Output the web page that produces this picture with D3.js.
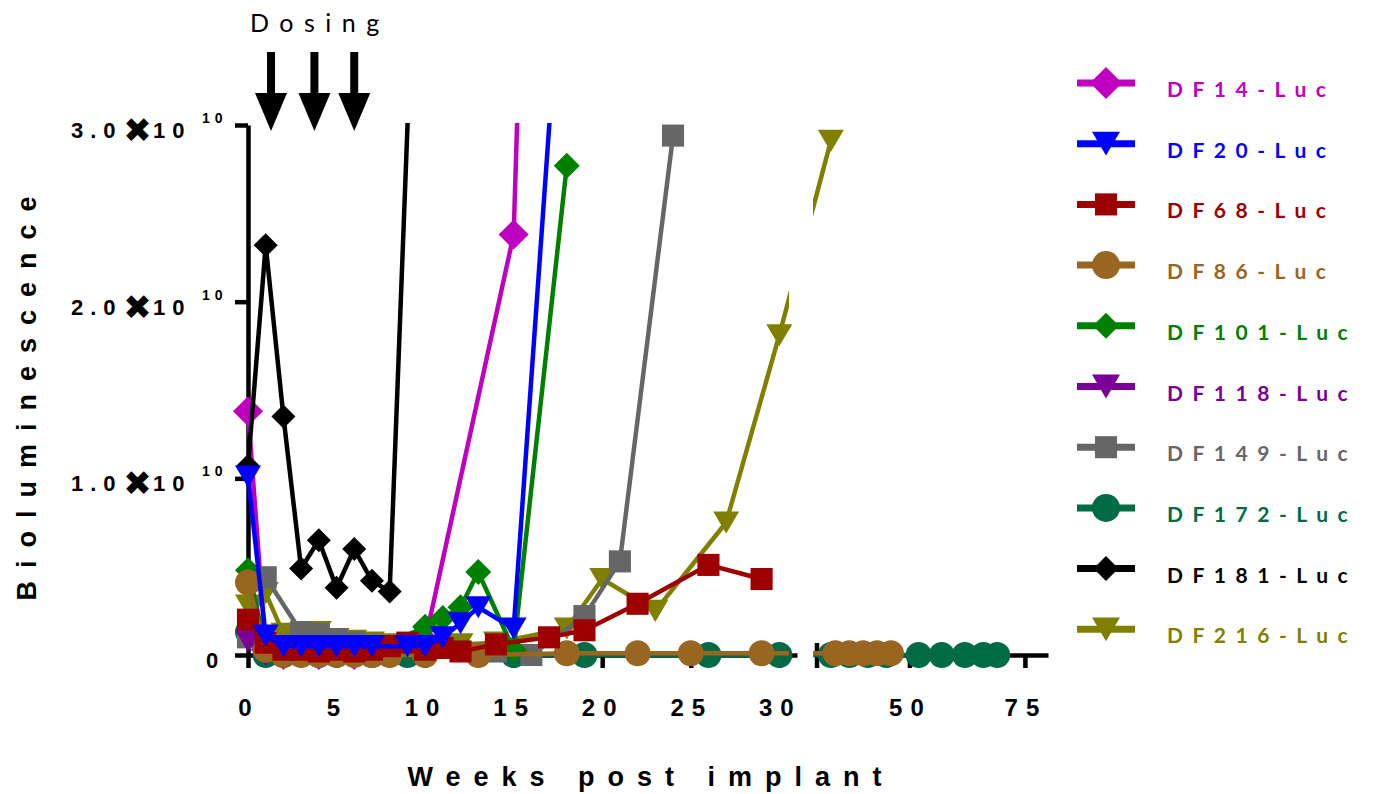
<!DOCTYPE html>
<html>
<head>
<meta charset="utf-8">
<script src="https://cdn.jsdelivr.net/npm/d3@7"></script>
<style>
  body { margin: 0; background: #fff; }
  svg { display: block; }
  .axis path, .axis line { stroke: #000; stroke-width: 4.5; }
  .xlabel { font-family: "Liberation Sans", Arial, sans-serif; font-weight: bold; font-size: 24px; letter-spacing: 8px; fill: #000; }
  .ylabel-part { font-family: "Liberation Sans", Arial, sans-serif; font-weight: bold; font-size: 22px; letter-spacing: 7px; fill: #000; }
  .title { font-family: "Liberation Sans", Arial, sans-serif; font-weight: bold; font-size: 27px; letter-spacing: 13px; fill: #000; }
  .legend-text { font-family: Lato, "Open Sans", sans-serif; font-weight: bold; font-size: 21px; letter-spacing: 9.5px; }
  .dosing { font-family: Lato, "Open Sans", sans-serif; font-size: 25px; letter-spacing: 10.5px; fill: #000; }
</style>
</head>
<body>
<svg id="chart" width="1373" height="794"></svg>
<script>
// values in units of 1e10, weeks post implant
const seriesNames = ["DF14-Luc", "DF20-Luc", "DF68-Luc", "DF86-Luc", "DF101-Luc",
                     "DF118-Luc", "DF149-Luc", "DF172-Luc", "DF181-Luc", "DF216-Luc"];

const DF14 = [[0, 1.38], [1, 0.03], [2, 0.0], [3, 0.01], [4, 0.0], [5, 0.01], [6, 0.0], [7, 0.01], [8, 0.01],
              [10, 0.08], [15, 2.38], [16, 5.6]];
const DF20 = [[0, 1.01], [1, 0.11], [2, 0.05], [3, 0.05], [4, 0.05], [5, 0.05], [6, 0.05], [7, 0.05], [9, 0.05],
              [10, 0.05], [11, 0.1], [12, 0.18], [13, 0.27], [15, 0.15], [18, 4.4]];
const DF68 = [[0, 0.2], [1, 0.07], [2, 0.03], [3, 0.03], [4, 0.02], [5, 0.03], [6, 0.02], [7, 0.03], [8, 0.05],
              [9, 0.07], [10, 0.03], [11, 0.04], [12, 0.02], [14, 0.06], [17, 0.1], [19, 0.14], [22, 0.29],
              [26, 0.51], [29, 0.43]];
const DF86 = [[0, 0.41], [1, 0.03], [2, 0.0], [3, 0.0], [4, 0.0], [5, 0.0], [6, 0.0], [7, 0.0], [8, 0.0],
              [10, 0.0], [13, 0.0], [18, 0.01], [22, 0.01], [25, 0.01], [29, 0.01], [34, 0.01], [37, 0.01],
              [40, 0.01], [43, 0.01], [46, 0.01]];
const DF101 = [[0, 0.48], [1, 0.05], [2, 0.02], [3, 0.02], [5, 0.02], [7, 0.02], [10, 0.16], [11, 0.21],
               [12, 0.27], [13, 0.47], [15, 0.03], [18, 2.77]];
const DF118 = [[0, 0.08], [1, 0.0], [2, 0.0], [3, 0.0], [5, 0.0], [7, 0.0]];
const DF149 = [[0, 0.1], [1, 0.44], [3, 0.13], [4, 0.12], [5, 0.09], [6, 0.07], [8, 0.05], [10, 0.03],
               [14, 0.02], [16, 0.0], [19, 0.22], [21, 0.53], [24, 2.94]];
const DF172 = [[0, 0.13], [1, 0.0], [2, 0.0], [4, 0.0], [7, 0.0], [9, 0.0], [15, 0.0], [19, 0.0], [26, 0.0],
               [30, 0.0], [33, 0.0], [37, 0.0], [41, 0.0], [45, 0.0], [52, 0.0], [57, 0.0], [62, 0.0],
               [66, 0.0], [69, 0.0]];
const DF181 = [[0, 1.07], [1, 2.32], [2, 1.35], [3, 0.49], [4, 0.65], [5, 0.38], [6, 0.6], [7, 0.42],
               [8, 0.36], [10, 5.6]];
const DF216 = [[0, 0.28], [1, 0.35], [2, 0.12], [3, 0.1], [4, 0.13], [5, 0.09], [6, 0.08], [7, 0.07],
               [8, 0.06], [10, 0.05], [12, 0.06], [14, 0.07], [18, 0.15], [20, 0.43], [23, 0.25],
               [27, 0.75], [30, 1.81], [33, 2.91]];

const seriesData = [DF14, DF20, DF68, DF86, DF101, DF118, DF149, DF172, DF181, DF216];

const xTicksLeft = [0, 5, 10, 15, 20, 25, 30];
const xTicksRight = [50, 75];
const yTicks = [0, 1, 2, 3];
const dosingWeeks = [1.3, 3.75, 6.0];

// styles
const colors = ["#c000c0", "#0000ff", "#9c0000", "#996622", "#008000",
                "#7a0099", "#666666", "#006b45", "#000000", "#808000"];
const shapes = ["diamond", "triangle", "square", "circle", "diamond",
                "triangle", "square", "circle", "diamond", "triangle"];

const svg = d3.select("#chart");

const xLeft = d3.scaleLinear().domain([0, 31]).range([248, 797]);
const xRight = d3.scaleLinear().domain([30, 80]).range([817, 1048]);
const xPos = w => (w <= 31 ? xLeft(w) : xRight(w));
const y = d3.scaleLinear().domain([0, 3]).range([655, 125]);

function shapePath(shape, s) {
    switch (shape) {
        case "diamond":
            return `M0,${-s}L${s},0L0,${s}L${-s},0Z`;
        case "triangle":
            return `M${-s},${-s * 0.85}L${s},${-s * 0.85}L0,${s * 0.85}Z`;
        case "square":
            return `M${-s * 0.85},${-s * 0.85}H${s * 0.85}V${s * 0.85}H${-s * 0.85}Z`;
        default:
            return d3.arc()({innerRadius: 0, outerRadius: s, startAngle: 0, endAngle: 2 * Math.PI});
    }
}

// clip region for lines: the two axis segments with a gap at the break
const clip = svg.append("defs").append("clipPath").attr("id", "plotClip");
clip.append("rect").attr("x", 200).attr("y", 123).attr("width", 789 - 200).attr("height", 700);
clip.append("rect").attr("x", 813).attr("y", 123).attr("width", 300).attr("height", 700);

// axes
svg.append("g")
    .attr("class", "axis")
    .attr("transform", "translate(248,0)")
    .call(d3.axisLeft(y).tickValues(yTicks).tickSize(13).tickSizeOuter(0).tickFormat(""));

svg.append("g")
    .attr("class", "axis")
    .attr("transform", "translate(0,655)")
    .call(d3.axisBottom(xLeft).tickValues(xTicksLeft).tickSize(13).tickSizeOuter(0).tickFormat(""));

svg.append("g")
    .attr("class", "axis")
    .attr("transform", "translate(0,655)")
    .call(d3.axisBottom(xRight).tickValues(xTicksRight).tickSize(13).tickSizeOuter(0).tickFormat(""));

svg.append("line")
    .attr("x1", xRight(30)).attr("x2", xRight(30))
    .attr("y1", 643).attr("y2", 668)
    .attr("stroke", "#000").attr("stroke-width", 4.5);

// x tick labels
const xLabels = xTicksLeft.map(t => ({t, x: xLeft(t)}))
    .concat(xTicksRight.map(t => ({t, x: xRight(t)})));
svg.selectAll(".xlabel")
    .data(xLabels)
    .enter()
    .append("text")
    .attr("class", "xlabel")
    .attr("x", d => d.x + 1)
    .attr("y", 716)
    .attr("text-anchor", "middle")
    .text(d => d.t);

// y tick labels, written as 3.0✖10^10
const yLab = svg.selectAll(".ylab")
    .data(yTicks)
    .enter()
    .append("g")
    .attr("class", "ylab")
    .attr("transform", d => "translate(0," + y(d) + ")");

yLab.filter(d => d === 0)
    .append("text")
    .attr("class", "ylabel-part")
    .attr("x", 206)
    .attr("y", 13)
    .text("0");

let sci = yLab.filter(d => d !== 0);
sci.append("text")
    .attr("class", "ylabel-part")
    .attr("x", 71)
    .attr("y", 13)
    .text(d => d.toFixed(1));
sci.append("text")
    .attr("x", 137.5)
    .attr("y", 17)
    .attr("text-anchor", "middle")
    .style("font-family", "DejaVu Sans")
    .style("font-weight", "bold")
    .style("font-size", "34px")
    .text("\u2716");
sci.append("text")
    .attr("class", "ylabel-part")
    .attr("x", 153)
    .attr("y", 13)
    .text("10");
sci.append("text")
    .attr("class", "ylabel-part")
    .attr("x", 202)
    .attr("y", -2)
    .style("font-size", "14px")
    .style("letter-spacing", "5px")
    .text("10");

// axis titles
svg.append("text")
    .attr("class", "title")
    .attr("transform", "translate(36,392) rotate(-90)")
    .attr("text-anchor", "middle")
    .text("Bioluminescence");

svg.append("text")
    .attr("class", "title")
    .attr("x", 651)
    .attr("y", 786)
    .attr("text-anchor", "middle")
    .text("Weeks post implant");

// dosing annotation
svg.append("text")
    .attr("class", "dosing")
    .attr("x", 250)
    .attr("y", 32)
    .text("Dosing");

let arrows = svg.selectAll(".dose")
    .data(dosingWeeks)
    .enter()
    .append("g")
    .attr("class", "dose")
    .attr("transform", d => "translate(" + xLeft(d) + ",0)");
arrows.append("rect")
    .attr("x", -4).attr("y", 52)
    .attr("width", 8).attr("height", 44)
    .attr("fill", "#000");
arrows.append("path")
    .attr("d", "M-16,93L16,93L0,131Z")
    .attr("fill", "#000");

// series drawing order, blue ends up on top
const line = d3.line().x(d => xPos(d[0])).y(d => y(d[1]));
const drawOrder = [0, 9, 8, 7, 6, 5, 4, 3, 2, 1];
const markerSize = [15, 13, 13, 13, 13, 13, 13, 13, 12, 13];

for (let i of drawOrder) {
    let g = svg.append("g").attr("class", "series");
    g.append("path")
        .datum(seriesData[i])
        .attr("clip-path", "url(#plotClip)")
        .attr("d", line)
        .attr("fill", "none")
        .attr("stroke", colors[i])
        .attr("stroke-width", 4.5)
        .attr("stroke-linejoin", "round");
    g.selectAll(".pt")
        .data(seriesData[i].filter(d => d[1] <= 3))
        .enter()
        .append("path")
        .attr("class", "pt")
        .attr("transform", d => "translate(" + xPos(d[0]) + "," + y(d[1]) + ")")
        .attr("d", shapePath(shapes[i], markerSize[i]))
        .attr("fill", colors[i]);
}

// legend
const legendSize = [16, 14, 13, 14, 13, 14, 13, 14, 12.5, 14];
let legend = svg.selectAll(".legend")
    .data(seriesNames)
    .enter()
    .append("g")
    .attr("class", "legend")
    .attr("transform", (d, i) => "translate(0," + (83 + i * 60.7) + ")");

legend.append("line")
    .attr("x1", 1077).attr("x2", 1135)
    .attr("stroke", (d, i) => colors[i])
    .attr("stroke-width", 7);
legend.append("path")
    .attr("transform", "translate(1106,0)")
    .attr("d", (d, i) => shapePath(shapes[i], legendSize[i]))
    .attr("fill", (d, i) => colors[i]);
legend.append("text")
    .attr("class", "legend-text")
    .attr("x", 1167)
    .attr("y", 14)
    .attr("fill", (d, i) => colors[i])
    .text(d => d);
</script>
</body>
</html>
